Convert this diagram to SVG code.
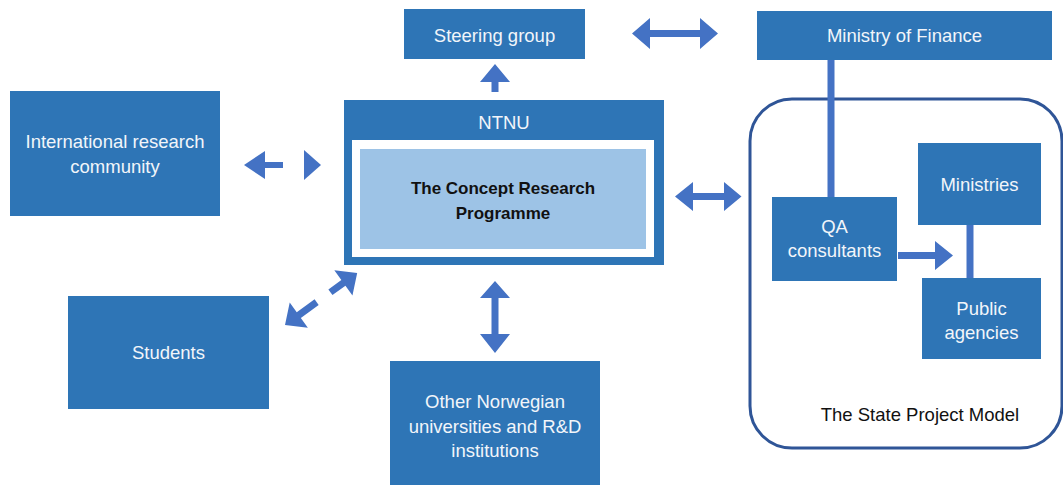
<svg xmlns="http://www.w3.org/2000/svg" width="1063" height="485" viewBox="0 0 1063 485">
  <style>
    .box { fill: #2e75b6; }
    .lbl { font-family: "Liberation Sans", Arial, sans-serif; font-size: 18.5px; fill: #f2f5fa; text-anchor: middle; }
    .dark { fill: #111111; }
    .bold { font-weight: bold; font-size: 17px; }
    .arrow { fill: #4472c4; }
    .link { stroke: #4472c4; stroke-width: 7; fill: none; }
  </style>
  <rect width="1063" height="485" fill="#ffffff"/>

  <!-- State project model frame -->
  <g id="state-project-model">
    <rect x="750" y="99" width="312" height="349" rx="42" ry="42" fill="none" stroke="#2f5597" stroke-width="3"/>
    <text class="lbl dark" x="920" y="421">The State Project Model</text>
  </g>

  <!-- Connectors -->
  <g id="connectors">
    <!-- NTNU -> Steering group -->
    <polygon class="arrow" points="495,64 510,82 498.5,82 498.5,92 491.5,92 491.5,82 480,82"/>
    <!-- Steering group <-> Ministry of Finance -->
    <polygon class="arrow" points="632,33.5 650,18 650,30 700,30 700,18 718,33.5 700,49 700,37 650,37 650,49"/>
    <!-- International research community <-> NTNU (broken shaft) -->
    <polygon class="arrow" points="244,165 265,151 265,162 283,162 283,168 265,168 265,179"/>
    <polygon class="arrow" points="321,165 304,150 304,180"/>
    <!-- NTNU <-> State project model -->
    <polygon class="arrow" points="675,196.5 693,182 693,193 724,193 724,182 741.5,196.5 724,211 724,200 693,200 693,211"/>
    <!-- NTNU <-> Students (broken diagonal) -->
    <g transform="translate(285,325) rotate(-35.8)">
      <polygon class="arrow" points="0,0 17,-15.5 17,-3.5 39,-3.5 39,3.5 17,3.5 17,15.5"/>
      <polygon class="arrow" points="89,0 72,-15.5 72,-3.5 56,-3.5 56,3.5 72,3.5 72,15.5"/>
    </g>
    <!-- NTNU <-> Other Norwegian institutions -->
    <polygon class="arrow" points="495,281 510,298 498.5,298 498.5,334 510,334 495,353 480,334 491.5,334 491.5,298 480,298"/>
    <!-- Ministry of Finance - QA consultants -->
    <line class="link" x1="831" y1="60" x2="831" y2="197"/>
    <!-- Ministries - Public agencies -->
    <line class="link" x1="970" y1="225" x2="970" y2="278"/>
    <!-- QA consultants -> Ministries / Public agencies -->
    <polygon class="arrow" points="898,252 935,252 935,241 953,255.5 935,270 935,259 898,259"/>
  </g>

  <g id="steering-group">
    <rect class="box" x="404" y="9" width="181" height="50"/>
    <text class="lbl" x="494.5" y="42">Steering group</text>
  </g>

  <g id="ministry-of-finance">
    <rect class="box" x="757" y="11" width="295" height="49"/>
    <text class="lbl" x="904.5" y="42">Ministry of Finance</text>
  </g>

  <g id="international-research-community">
    <rect class="box" x="10" y="91" width="210" height="125"/>
    <text class="lbl" x="115" y="148">International research</text>
    <text class="lbl" x="115" y="173">community</text>
  </g>

  <g id="ntnu">
    <rect class="box" x="344" y="100" width="320" height="165"/>
    <text class="lbl" x="504" y="129">NTNU</text>
    <rect x="352" y="140" width="302" height="117" fill="#ffffff"/>
    <g id="concept-research-programme">
      <rect x="360" y="149" width="286" height="100" fill="#9dc3e6"/>
      <text class="lbl dark bold" x="503" y="194">The Concept Research</text>
      <text class="lbl dark bold" x="503" y="219">Programme</text>
    </g>
  </g>

  <g id="students">
    <rect class="box" x="68" y="296" width="201" height="113"/>
    <text class="lbl" x="168.5" y="359">Students</text>
  </g>

  <g id="other-norwegian-institutions">
    <rect class="box" x="390" y="361" width="210" height="124"/>
    <text class="lbl" x="495" y="408">Other Norwegian</text>
    <text class="lbl" x="495" y="433">universities and R&amp;D</text>
    <text class="lbl" x="495" y="457">institutions</text>
  </g>

  <g id="qa-consultants">
    <rect class="box" x="772" y="197" width="125" height="84"/>
    <text class="lbl" x="834.5" y="233">QA</text>
    <text class="lbl" x="834.5" y="257">consultants</text>
  </g>

  <g id="ministries">
    <rect class="box" x="918" y="143" width="123" height="82"/>
    <text class="lbl" x="979.5" y="191">Ministries</text>
  </g>

  <g id="public-agencies">
    <rect class="box" x="922" y="278" width="119" height="81"/>
    <text class="lbl" x="981.5" y="315">Public</text>
    <text class="lbl" x="981.5" y="339">agencies</text>
  </g>
</svg>
